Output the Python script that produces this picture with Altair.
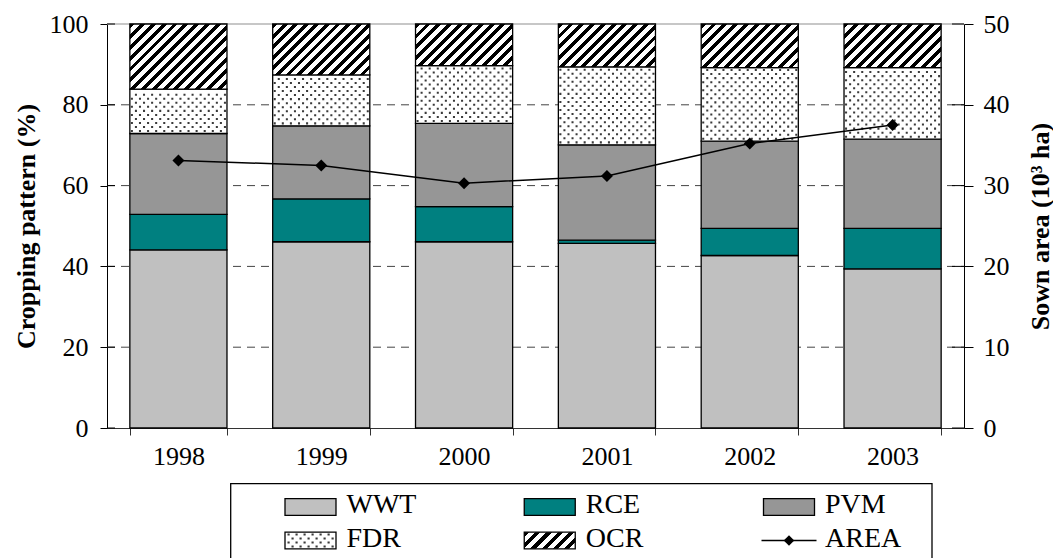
import altair as alt
import pandas as pd

# ---------------- data ----------------
YEARS = ["1998", "1999", "2000", "2001", "2002", "2003"]
CROPS = ["WWT", "RCE", "PVM", "FDR", "OCR"]
WWT = [44.1, 46.1, 46.1, 45.7, 42.7, 39.4]
RCE = [8.8, 10.6, 8.7, 0.8, 6.7, 10.0]
PVM = [20.0, 18.1, 20.6, 23.6, 21.6, 22.1]
FDR = [11.0, 12.6, 14.3, 19.3, 18.2, 17.7]
OCR = [16.1, 12.6, 10.3, 10.6, 10.8, 10.8]
AREA = [33.1, 32.5, 30.3, 31.2, 35.2, 37.5]
LEFT_TICKS = [0, 20, 40, 60, 80, 100]
RIGHT_TICKS = [0, 10, 20, 30, 40, 50]
LEGEND_ITEMS = ["WWT", "RCE", "PVM", "FDR", "OCR", "AREA"]
LEFT_TITLE = "Cropping pattern (%)"
RIGHT_TITLE = "Sown area (10\u00b3 ha)"

# ---------------- style ----------------
SERIF = "Liberation Serif, Times New Roman, serif"
W, H = 857, 404
PX_PER_PCT = H / 100.0
BAR_W = 97.1
SOLID_COLORS = ["#c0c0c0", "#008080", "#969696"]
DOT_COLOR = "#3a3a3a"
RECT_PATH = "M-1,-0.326H1V0.326H-1Z"
LINE_PATH = "M-1,0H1"


def squares_path(points, d):
    return "".join("M%.4f,%.4fh%.4fv%.4fh%.4fZ" % (x - d / 2, y - d / 2, d, d, -d)
                   for x, y in points)


def dot_row_path(shift, n=12, d=0.042):
    """A row of n tiny squares spanning [-1, 1] (texture symbol for the bars)."""
    step = 2.0 / n
    return squares_path([(-1 + step * (j + 0.25 + 0.5 * shift), 0.0) for j in range(n)], d)


def legend_dots_path():
    """Staggered dot grid filling the legend swatch (texture symbol)."""
    pts = []
    ys = [-0.235, -0.078, 0.078, 0.235]
    for k, y in enumerate(ys):
        x = -0.86 + (0.157 if k % 2 else 0.0)
        while x < 0.9:
            pts.append((x, y))
            x += 0.314
    return squares_path(pts, 0.085)


DOT_PATHS = [dot_row_path(0), dot_row_path(1)]
LEGEND_DOTS = legend_dots_path()


def hatch(w, h, period=10.8, frac=0.45):
    """Diagonal '/' hatching as a hard-stop linear gradient (45 deg in pixels)."""
    r = h / w
    s = (1 + r) / (1 + r * r)
    n = max(1, round((w + h) / period))
    dt = 1.0 / n
    stops = []
    for i in range(n):
        a = round(i * dt, 4)
        b = round(min(1.0, (i + frac) * dt), 4)
        c = round(min(1.0, (i + 1) * dt), 4)
        stops += [
            alt.GradientStop(color="black", offset=a),
            alt.GradientStop(color="black", offset=b),
            alt.GradientStop(color="white", offset=b),
            alt.GradientStop(color="white", offset=c),
        ]
    return alt.LinearGradient(gradient="linear", stops=stops,
                              x1=0, y1=0, x2=round(s, 4), y2=round(s * r, 4))


# ---------------- tables ----------------
series = [WWT, RCE, PVM, FDR, OCR]
rows = []
for i, yr in enumerate(YEARS):
    for j, name in enumerate(CROPS):
        rows.append({"year": yr, "crop": name, "share": series[j][i], "order": j})
df = pd.DataFrame(rows)

# rows of the dotted texture inside each FDR block
dots = []
for i, yr in enumerate(YEARS):
    lo = WWT[i] + RCE[i] + PVM[i]
    hi = lo + FDR[i]
    k = 0
    v = lo + 0.6
    while v < hi - 0.4:
        dots.append({"year": yr, "v": v, "parity": k % 2})
        k += 1
        v = lo + 0.6 + k * 1.0
dots_df = pd.DataFrame(dots)

area_df = pd.DataFrame({"year": YEARS, "area": AREA})
grid_df = pd.DataFrame({"v": [t for t in LEFT_TICKS if 0 < t < LEFT_TICKS[-1]]})
top_df = pd.DataFrame({"v": [LEFT_TICKS[-1]]})
ticks_df = pd.DataFrame({"v": LEFT_TICKS})

leg_df = pd.DataFrame({"name": LEGEND_ITEMS,
                       "col": [0, 1, 2, 0, 1, 2],
                       "row": [0, 0, 0, 1, 1, 1]})

# ---------------- encodings ----------------
X = alt.X("year:N",
          scale=alt.Scale(type="band", paddingInner=0.32, paddingOuter=0.16),
          axis=alt.Axis(title=None, tickBand="extent", tickSize=7, labelPadding=8,
                        labelAngle=0, domainColor="#333333", tickColor="#333333"))
YL_SCALE = alt.Scale(domain=[0, 100], nice=False)
YL_AXIS = alt.Axis(orient="left", values=LEFT_TICKS, title=LEFT_TITLE, grid=False,
                   tickSize=7, labelPadding=12, titlePadding=10)
YR_AXIS = alt.Axis(orient="right", values=RIGHT_TICKS, title=RIGHT_TITLE, grid=False,
                   tickSize=9, labelPadding=10, titlePadding=18,
                   titleAngle=270, titleBaseline="top")

base = alt.Chart(df).transform_stack(
    stack="share", as_=["y0", "y1"], groupby=["year"],
    sort=[alt.SortField("order", order="ascending")])


def ybar():
    return dict(x=X, y=alt.Y("y0:Q", scale=YL_SCALE, axis=YL_AXIS), y2="y1:Q")


grid = alt.Chart(grid_df).mark_rule(color="#444444", strokeDash=[8, 6], strokeWidth=1).encode(
    x=alt.value(0), x2=alt.value(W), y=alt.Y("v:Q", scale=YL_SCALE, axis=YL_AXIS))
top = alt.Chart(top_df).mark_rule(color="#b4b4b4", strokeWidth=1.5).encode(
    x=alt.value(0), x2=alt.value(W), y=alt.Y("v:Q", scale=YL_SCALE, axis=YL_AXIS))

solid = base.transform_filter(
    alt.FieldOneOfPredicate(field="crop", oneOf=CROPS[:3])
).mark_bar(stroke="black", strokeWidth=1.3).encode(
    fill=alt.Fill("crop:N", scale=alt.Scale(domain=CROPS[:3], range=SOLID_COLORS), legend=None),
    **ybar())

fdr = base.transform_filter(alt.datum.crop == "FDR").mark_bar(
    fill="white", stroke="black", strokeWidth=1.3).encode(**ybar())

fdr_dots = alt.Chart(dots_df).mark_point(
    filled=True, size=round(BAR_W ** 2), color=DOT_COLOR, opacity=1, strokeWidth=0
).encode(
    x=X,
    y=alt.Y("v:Q", scale=YL_SCALE, axis=YL_AXIS),
    shape=alt.Shape("parity:N", scale=alt.Scale(domain=[0, 1], range=DOT_PATHS), legend=None))

ocr_layers = []
for i, yr in enumerate(YEARS):
    ocr_layers.append(
        base.transform_filter((alt.datum.crop == "OCR") & (alt.datum.year == yr)).mark_bar(
            fill=hatch(BAR_W, OCR[i] * PX_PER_PCT), stroke="black", strokeWidth=1.3
        ).encode(**ybar()))

nub_l = alt.Chart(ticks_df).mark_rule(color="black").encode(
    x=alt.value(0), x2=alt.value(8), y=alt.Y("v:Q", scale=YL_SCALE, axis=YL_AXIS))
nub_r = alt.Chart(ticks_df).mark_rule(color="black").encode(
    x=alt.value(W - 12), x2=alt.value(W), y=alt.Y("v:Q", scale=YL_SCALE, axis=YL_AXIS))

left = alt.layer(grid, top, solid, fdr, fdr_dots, *ocr_layers, nub_l, nub_r)

YR = alt.Y("area:Q", scale=alt.Scale(domain=[0, 50], nice=False), axis=YR_AXIS)
line = alt.Chart(area_df).mark_line(color="black", strokeWidth=1.5).encode(x=X, y=YR)
pts = alt.Chart(area_df).mark_point(shape="diamond", filled=True, size=144,
                                    color="black", opacity=1).encode(x=X, y=YR)
right = alt.layer(line, pts)

plot = alt.layer(left, right).resolve_scale(y="independent")

# ---------------- legend (drawn below the plot) ----------------
LX = alt.X("col:Q", scale=alt.Scale(domain=[0, 2], range=[203.5, 682], nice=False, zero=False), axis=None)
LY = alt.Y("row:Q", scale=alt.Scale(domain=[0, 1], range=[483, 516.5], nice=False, zero=False), axis=None)

box = alt.Chart(pd.DataFrame({"k": [0]})).mark_rect(
    fillOpacity=0, stroke="black", strokeWidth=1.3).encode(
    x=alt.value(123.7), x2=alt.value(825), y=alt.value(459.7), y2=alt.value(620))

sw = alt.Chart(leg_df).transform_filter(
    alt.FieldOneOfPredicate(field="name", oneOf=CROPS[:4])
).mark_point(shape=RECT_PATH, size=51 ** 2, filled=True, stroke="black",
             strokeWidth=1.3, opacity=1).encode(
    x=LX, y=LY,
    fill=alt.Fill("name:N", scale=alt.Scale(domain=CROPS[:4], range=SOLID_COLORS + ["white"]),
                  legend=None))
sw_fdr_dots = alt.Chart(leg_df).transform_filter(alt.datum.name == "FDR").mark_point(
    shape=LEGEND_DOTS, size=51 ** 2, filled=True, color=DOT_COLOR, opacity=1,
    strokeWidth=0).encode(x=LX, y=LY)
sw_ocr = alt.Chart(leg_df).transform_filter(alt.datum.name == "OCR").mark_point(
    shape=RECT_PATH, size=51 ** 2, filled=True, fill=hatch(51, 16.6, period=11),
    stroke="black", strokeWidth=1.3, opacity=1).encode(x=LX, y=LY)
sw_line = alt.Chart(leg_df).transform_filter(alt.datum.name == "AREA").mark_point(
    shape=LINE_PATH, size=55 ** 2, filled=False, stroke="black", strokeWidth=1.5,
    opacity=1).encode(x=LX, y=LY)
sw_dia = alt.Chart(leg_df).transform_filter(alt.datum.name == "AREA").mark_point(
    shape="diamond", size=112, filled=True, color="black", opacity=1).encode(x=LX, y=LY)
labels = alt.Chart(leg_df).mark_text(
    align="left", baseline="middle", dx=36, dy=-2, font=SERIF, fontSize=28,
    color="black").encode(x=LX, y=LY, text="name:N")

legend = alt.layer(box, sw, sw_fdr_dots, sw_ocr, sw_line, sw_dia, labels)

chart = alt.layer(plot, legend).resolve_scale(
    x="independent", y="independent", fill="independent", shape="independent"
).properties(
    width=W, height=H,
    autosize=alt.AutoSizeParams(type="none"),
    padding={"left": 99, "top": 16, "right": 89, "bottom": 134},
).configure_view(stroke=None).configure_axis(
    labelFont=SERIF, titleFont=SERIF, labelFontSize=26, titleFontSize=26,
    titleFontWeight="bold", labelColor="black", titleColor="black",
    domainColor="black", tickColor="black", zindex=1,
)

chart.save("out.html", embed_options={"renderer": "svg", "actions": False})
